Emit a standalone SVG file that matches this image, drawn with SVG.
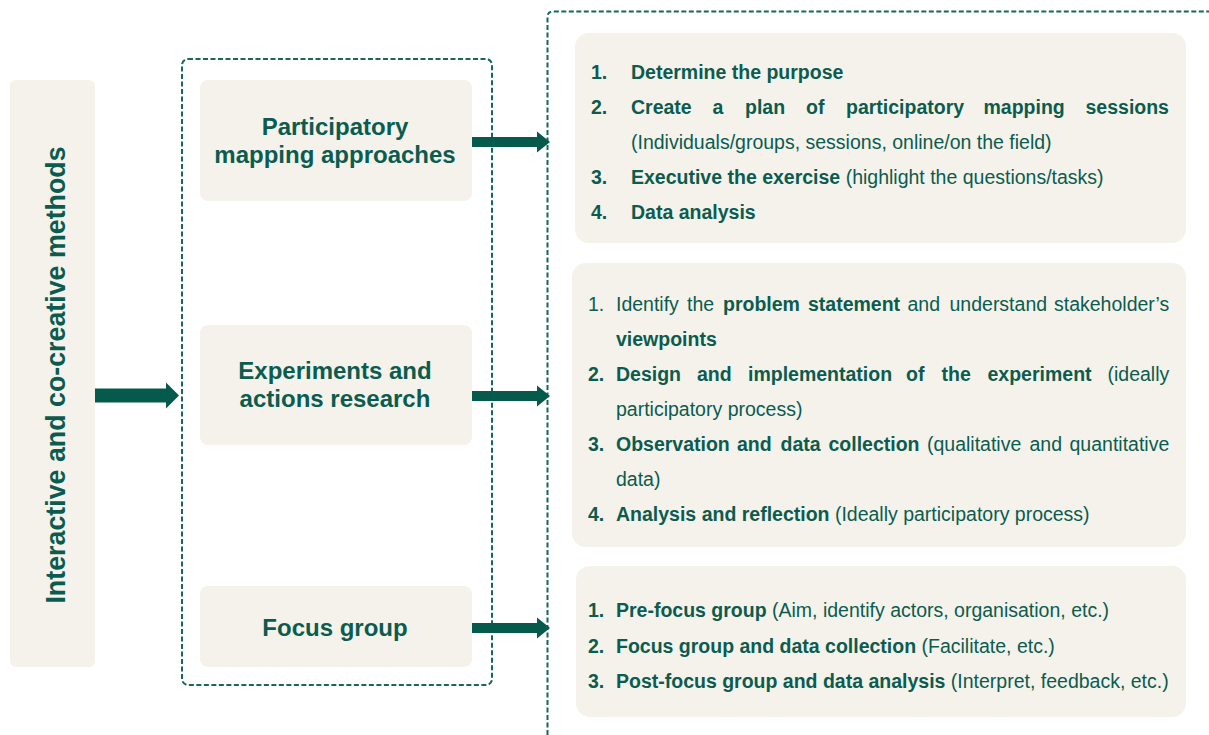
<svg xmlns="http://www.w3.org/2000/svg" width="1209" height="735" viewBox="0 0 1209 735">
<style>
text{font-family:"Liberation Sans",Arial,sans-serif;fill:#0b5c4e}
.b{font-weight:bold}
.r{font-weight:normal}
.body{font-size:19.5px}
.mid{font-size:24px;font-weight:bold;text-anchor:middle}
.box{fill:#f5f2ec}
.dash{fill:none;stroke:#17675a;stroke-width:2;stroke-dasharray:5 2.5}
.arrow{fill:#055a4b}
</style>
<rect width="1209" height="735" fill="#ffffff"/>

<g id="container-middle">
<rect class="dash" x="182" y="59" width="310" height="626" rx="6"/>
</g>
<g id="container-right">
<path class="dash" d="M547.5 735 V17 Q547.5 11.5 553 11.5 H1209"/>
</g>

<g id="node-main">
<rect class="box" x="10" y="80" width="85" height="587" rx="6"/>
<text class="b" font-size="26.8" text-anchor="middle" transform="translate(64.5,375) rotate(-90)">Interactive and co-creative methods</text>
</g>

<g id="node-participatory">
<rect class="box" x="200" y="80" width="272" height="121" rx="8"/>
<text class="mid" x="335" y="135">Participatory</text>
<text class="mid" x="335" y="163">mapping approaches</text>
</g>
<g id="node-experiments">
<rect class="box" x="200" y="325" width="272" height="120" rx="8"/>
<text class="mid" x="335" y="379">Experiments and</text>
<text class="mid" x="335" y="407">actions research</text>
</g>
<g id="node-focus">
<rect class="box" x="200" y="586" width="272" height="81" rx="8"/>
<text class="mid" x="335" y="636">Focus group</text>
</g>

<g id="detail-participatory">
<rect class="box" x="575" y="33" width="611" height="210" rx="14"/>
<text class="body b" x="591" y="79">1.</text>
<text class="body b" x="631" y="79">Determine the purpose</text>
<text class="body b" x="591" y="114">2.</text>
<text class="body b" y="114"><tspan x="631">Create</tspan><tspan x="712.5">a</tspan><tspan x="745">plan</tspan><tspan x="806">of</tspan><tspan x="846">participatory</tspan><tspan x="983.5">mapping</tspan><tspan x="1085.5">sessions</tspan></text>
<text class="body r" x="631" y="149">(Individuals/groups, sessions, online/on the field)</text>
<text class="body b" x="591" y="184">3.</text>
<text class="body b" x="631" y="184">Executive the exercise<tspan class="r"> (highlight the questions/tasks)</tspan></text>
<text class="body b" x="591" y="219">4.</text>
<text class="body b" x="631" y="219">Data analysis</text>
</g>

<g id="detail-experiments">
<rect class="box" x="572" y="263" width="614" height="284" rx="14"/>
<text class="body r" x="588" y="311">1.</text>
<text class="body r" y="311"><tspan x="616">Identify</tspan><tspan x="687">the</tspan><tspan class="b" x="723">problem</tspan><tspan class="b" x="808">statement</tspan><tspan x="907.5">and</tspan><tspan x="949.5">understand</tspan><tspan x="1054">stakeholder’s</tspan></text>
<text class="body b" x="616" y="346">viewpoints</text>
<text class="body b" x="588" y="381">2.</text>
<text class="body b" y="381"><tspan x="616">Design</tspan><tspan x="697">and</tspan><tspan x="748">implementation</tspan><tspan x="906">of</tspan><tspan x="941.5">the</tspan><tspan x="987.5">experiment</tspan><tspan class="r" x="1107.5">(ideally</tspan></text>
<text class="body r" x="616" y="416">participatory process)</text>
<text class="body b" x="588" y="451">3.</text>
<text class="body b" y="451"><tspan x="616">Observation</tspan><tspan x="737">and</tspan><tspan x="780.5">data</tspan><tspan x="828.5">collection</tspan><tspan class="r" x="927">(qualitative</tspan><tspan class="r" x="1029.5">and</tspan><tspan class="r" x="1069.5">quantitative</tspan></text>
<text class="body r" x="616" y="486">data)</text>
<text class="body b" x="588" y="521">4.</text>
<text class="body b" x="616" y="521">Analysis and reflection<tspan class="r"> (Ideally participatory process)</tspan></text>
</g>

<g id="detail-focus">
<rect class="box" x="576" y="566" width="610" height="151" rx="14"/>
<text class="body b" x="588" y="617">1.</text>
<text class="body b" x="616" y="617">Pre-focus group<tspan class="r"> (Aim, identify actors, organisation, etc.)</tspan></text>
<text class="body b" x="588" y="653">2.</text>
<text class="body b" x="616" y="653">Focus group and data collection<tspan class="r"> (Facilitate, etc.)</tspan></text>
<text class="body b" x="588" y="688">3.</text>
<text class="body b" x="616" y="688">Post-focus group and data analysis<tspan class="r"> (Interpret, feedback, etc.)</tspan></text>
</g>

<g id="connectors">
<path class="arrow" d="M95 388.5 H166 V382.5 L179 395.5 L166 408.5 V402.5 H95 Z"/>
<path class="arrow" d="M472 137 H537 V131.5 L550 142 L537 152.5 V147 H472 Z"/>
<path class="arrow" d="M472 391 H537 V385.5 L550 396 L537 406.5 V401 H472 Z"/>
<path class="arrow" d="M472 623 H537 V617.5 L550 628 L537 638.5 V633 H472 Z"/>
</g>
</svg>
